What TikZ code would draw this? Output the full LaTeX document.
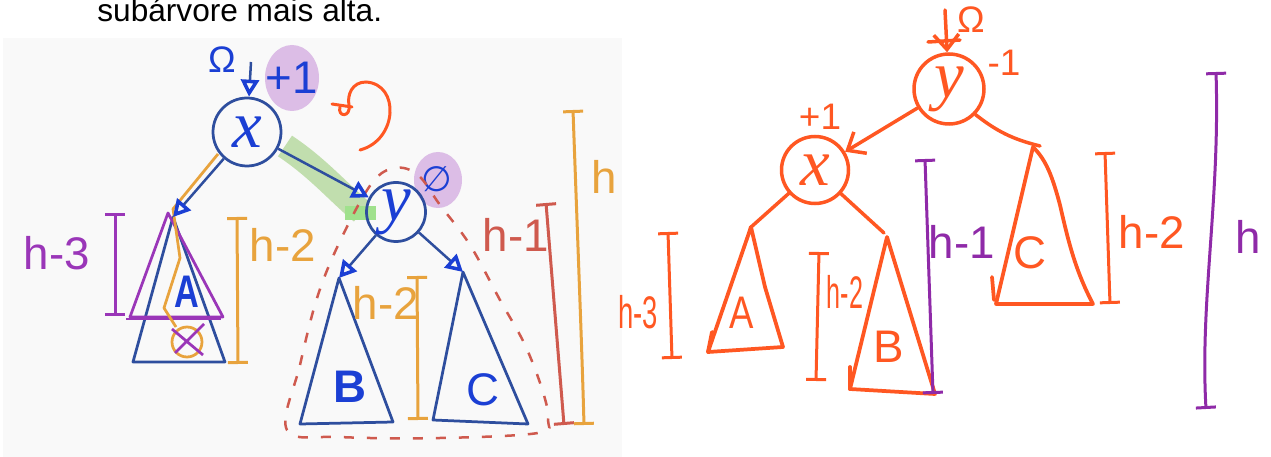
\documentclass[tikz,border=0pt]{standalone}
\usepackage{fontspec}
\setmainfont{Liberation Sans}
\newfontfamily\serifit{Liberation Serif}
\newfontfamily\symfont{DejaVu Sans}
\usetikzlibrary{arrows.meta}
\definecolor{skBlue}  {RGB}{ 46, 78,158}
\definecolor{skInk}   {RGB}{ 27, 63,212}
\definecolor{skAmber} {RGB}{232,163, 61}
\definecolor{skPurple}{RGB}{154, 54,184}
\definecolor{skLilac} {RGB}{220,189,230}
\definecolor{skGreen} {RGB}{188,220,166}
\definecolor{skRed}   {RGB}{207, 90, 78}
\definecolor{skOrange}{RGB}{255, 87, 34}
\definecolor{skViolet}{RGB}{143, 42,168}
\definecolor{skPaper} {RGB}{249,249,249}

\begin{document}
\begin{tikzpicture}[x=0.2mm,y=-0.2mm,
  every node/.style={inner sep=0pt},
  lbl/.style={font=\fontsize{26}{26}\selectfont},
  blbl/.style={font=\fontsize{26}{26}\selectfont\bfseries},
  small/.style={font=\fontsize{21}{21}\selectfont},
  bnode/.style={draw=skBlue,line width=0.55mm,circle,minimum size=13.6mm,
                text=skInk,font=\fontsize{38}{38}\selectfont\serifit\itshape},
  onode/.style={draw=skOrange,line width=0.7mm,circle,minimum size=14mm,
                text=skOrange,font=\fontsize{38}{38}\selectfont\serifit\itshape},
  btri/.style={draw=skBlue,line width=0.55mm,line join=round},
  otri/.style={draw=skOrange,line width=0.75mm,line join=round,line cap=round},
  bedge/.style={draw=skBlue,line width=0.5mm,
                -{Triangle[open,length=3.4mm,width=3.6mm,line width=0.7mm,color=skInk]}},
  oedge/.style={draw=skOrange,line width=0.7mm,line cap=round,
                -{Straight Barb[length=3mm,width=5mm]}},
  oline/.style={draw=skOrange,line width=0.7mm,line cap=round},
  brack/.style={line width=0.6mm,line cap=round,{Bar[width=4mm]}-{Bar[width=4mm]}},
  rdash/.style={draw=skRed,line width=0.5mm,dash pattern=on 2mm off 2.6mm}
]
\useasboundingbox (0,0) rectangle (1271,457);
\fill[skPaper] (3,38) rectangle (622,457);
\node[anchor=base west,font=\fontsize{18}{18}\selectfont] (cap) at (97,22) {subárvore mais alta.};

% left: before the rotation
\draw[skGreen,line width=5mm,opacity=.9] (285,146) .. controls (318,168) and (338,192) .. (362,212);
\fill[skGreen!85!green] (345,206) rectangle (376,220);
\fill[skLilac] (292,78) ellipse [x radius=5.4mm,y radius=6.6mm];
\fill[skLilac] (438,180) ellipse [x radius=4.8mm,y radius=5.6mm];
\node[lbl,text=skInk] (lp1) at (292,78) {+1};
\node[text=skInk,font=\fontsize{20}{20}\selectfont\symfont] (lz) at (437,179) {∅};
\node[small,text=skInk] (lom) at (222,60) {Ω};

\draw[rdash] plot[smooth cycle,tension=0.6] coordinates {(287,430) (300,365) (318,295)
  (342,237) (372,183) (395,168) (418,175) (440,205) (470,245) (500,300) (525,345)
  (543,392) (548,420) (538,433) (440,438) (340,437)};

\node[bnode] (nx) at (247,132) {x};
\node[bnode,minimum size=11.8mm] (ny) at (396,212) {y};
\coordinate (lin) at (251,62);
\draw[bedge] (lin) -- (nx);

\coordinate (At) at (173,217);
\coordinate (Bt) at (339,278);
\coordinate (Ct) at (463,272);
\draw[btri] (At) -- (133,362) -- (225,362) -- cycle;
\draw[btri] (Bt) -- (300,424) -- (393,422) -- cycle;
\draw[btri] (Ct) -- (433,420) -- (528,424) -- cycle;
\draw[skPurple,line width=0.55mm,line join=round] (168,213) -- (130,317) -- (223,317) -- cycle;
\draw[skPurple,line width=0.55mm] (126,319) -- (221,319);
\draw[skAmber,line width=0.55mm,line join=round] (218,154) -- (173,209) -- (180,258)
  -- (164,308) -- (176,327);
\draw[skAmber,line width=0.55mm] (187,342) circle[radius=3mm];
\draw[skPurple,line width=0.55mm] (172,329) -- (203,355) (204,324) -- (175,353);
\draw[bedge] (nx) -- (At);
\draw[bedge] (nx) -- (ny);
\draw[bedge] (ny) -- (Bt);
\draw[bedge] (ny) -- (Ct);
\node[blbl,text=skInk] (lA) at (187,292) {\scalebox{.75}[1]{A}};
\node[blbl,text=skInk] (lB) at (350,387) {B};
\node[lbl,text=skInk] (lC) at (483,390) {C};

\draw[skOrange,line width=0.6mm,line cap=round] (360,150) .. controls (398,140) and (400,84) .. (366,82)
  .. controls (352,82) and (347,95) .. (349,105) .. controls (351,118) and (337,117) .. (340,107);
\draw[skOrange,line width=0.6mm,line cap=round] (332,104) -- (352,107);

\draw[brack,skPurple] (115,213) -- (115,316);
\draw[brack,skAmber] (237,217) -- (238,364);
\draw[brack,skAmber] (417,276) -- (418,420);
\draw[brack,skRed] (546,203) -- (564,425);
\draw[brack,skAmber] (573,110) .. controls (578,250) and (582,350) .. (584,425);
\node[lbl,text=skPurple] (lh3) at (57,253) {h-3};
\node[lbl,text=skAmber] (lh2a) at (283,245) {h-2};
\node[lbl,text=skAmber] (lh2b) at (386,303) {h-2};
\node[lbl,text=skRed] (lh1) at (516,235) {h-1};
\node[lbl,text=skAmber] (lh) at (604,177) {h};

% right: after the rotation
\node[onode] (ry) at (949,89) {y};
\node[onode,minimum size=13.4mm] (rx) at (815,170) {x};
\coordinate (rin) at (945,10);
\draw[oedge] (rin) -- (ry);
\draw[oline] (928,42) -- (960,40);
\node[small,text=skOrange] (rom) at (971,20) {Ω};
\node[small,text=skOrange] (rm1) at (1004,63) {-1};
\node[small,text=skOrange] (rp1) at (820,117) {+1};
\draw[oedge] (ry) -- (rx);

\coordinate (rAt) at (750,228);
\coordinate (rBt) at (884,233);
\coordinate (rCt) at (1040,146);
\draw[oline] (rx) -- (rAt);
\draw[oline] (rx) -- (rBt);
\draw[oline] (ry) to[bend right=12] (rCt);
\draw[otri] (751,227) -- (708,352) -- (783,347) -- (765,287) -- cycle;
\draw[otri] (712,332) -- (708,352);
\draw[otri] (887,237) -- (850,389) -- (935,394) -- cycle;
\draw[otri] (850,367) -- (850,389);
\draw[otri] (1033,147) -- (996,304) -- (1093,304) .. controls (1075,270) and (1068,240) .. (1060,205)
  .. controls (1052,175) and (1046,160) .. (1033,147);
\draw[otri] (992,277) -- (994,300);
\node[lbl,text=skOrange] (rA) at (742,313) {\scalebox{.8}[1]{A}};
\node[lbl,text=skOrange] (rB) at (889,347) {B};
\node[lbl,text=skOrange] (rC) at (1030,253) {C};

\draw[brack,skOrange] (668,232) -- (672,359);
\draw[brack,skOrange] (819,252) -- (816,381);
\draw[brack,skViolet] (925,159) -- (933,394);
\draw[brack,skOrange] (1105,152) -- (1110,304);
\draw[brack,skViolet] (1216,72) .. controls (1220,200) and (1200,300) .. (1206,409);
\node[lbl,text=skOrange] (rh3) at (638,312) {\scalebox{.6}[1]{h-3}};
\node[lbl,text=skOrange] (rh2a) at (845,292) {\scalebox{.55}[1]{h-2}};
\node[lbl,text=skViolet] (rh1) at (962,242) {h-1};
\node[lbl,text=skOrange] (rh2b) at (1152,232) {h-2};
\node[lbl,text=skViolet] (rh) at (1248,237) {h};
\end{tikzpicture}
\end{document}
